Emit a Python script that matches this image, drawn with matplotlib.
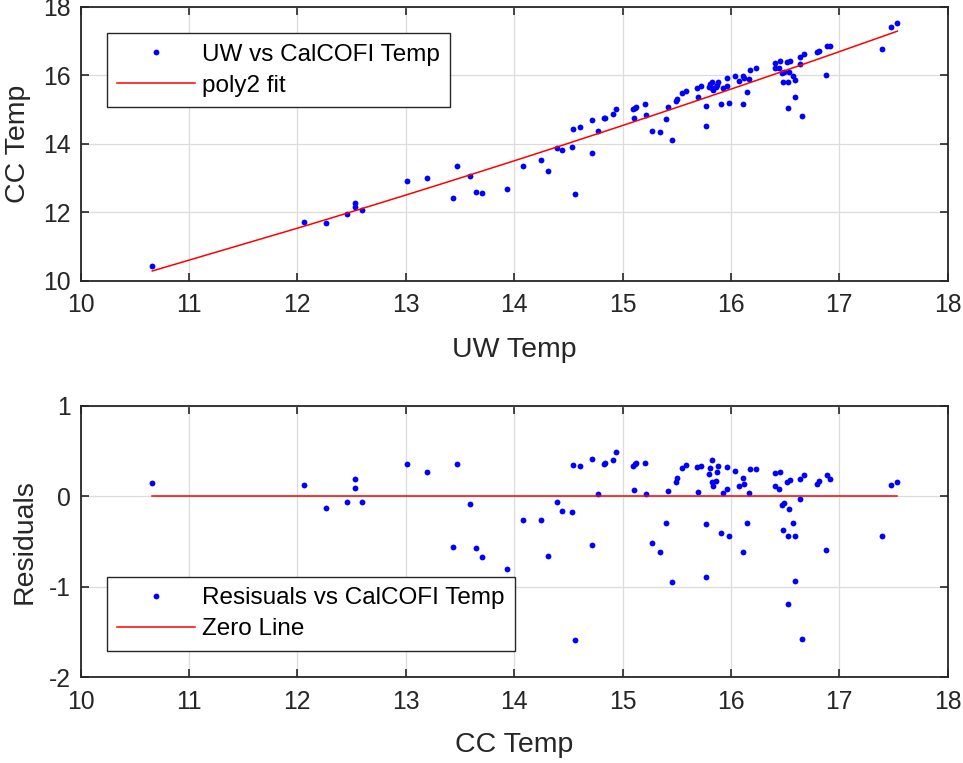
import numpy as np
import matplotlib
matplotlib.use("Agg")
import matplotlib.pyplot as plt

plt.rcParams['font.family'] = ['Liberation Sans', 'DejaVu Sans']
plt.rcParams['axes.unicode_minus'] = False

# UW temperature (x values shared by both panels)
uw_temp = [10.662, 12.059, 12.268, 12.461, 12.535, 12.535, 12.597, 13.009, 13.194, 13.439,
           13.476, 13.596, 13.649, 13.701, 13.932, 14.085, 14.245, 14.316, 14.393, 14.439,
           14.531, 14.543, 14.562, 14.611, 14.716, 14.719, 14.771, 14.829, 14.839, 14.909,
           14.943, 15.100, 15.106, 15.112, 15.125, 15.211, 15.220, 15.272, 15.349, 15.398,
           15.417, 15.454, 15.490, 15.500, 15.546, 15.586, 15.687, 15.697, 15.724, 15.767,
           15.770, 15.801, 15.807, 15.828, 15.825, 15.838, 15.862, 15.868, 15.884, 15.909,
           15.930, 15.964, 15.966, 15.983, 16.035, 16.075, 16.112, 16.118, 16.115, 16.149,
           16.170, 16.173, 16.232, 16.407, 16.410, 16.446, 16.453, 16.474, 16.478, 16.493,
           16.520, 16.524, 16.527, 16.533, 16.542, 16.573, 16.591, 16.594, 16.635, 16.640,
           16.656, 16.674, 16.794, 16.816, 16.874, 16.887, 16.917, 17.394, 17.474, 17.535]

# CalCOFI (CC) temperature
cc_temp = [10.44, 11.72, 11.685, 11.94, 12.26, 12.16, 12.06, 12.90, 12.99, 12.41,
           13.36, 13.05, 12.60, 12.56, 12.67, 13.36, 13.53, 13.20, 13.875, 13.82,
           13.90, 14.44, 12.54, 14.50, 13.74, 14.68, 14.36, 14.75, 14.76, 14.876,
           15.004, 15.013, 14.76, 15.05, 15.07, 15.17, 14.84, 14.36, 14.34, 14.71,
           15.08, 14.11, 15.26, 15.31, 15.47, 15.55, 15.635, 15.36, 15.676, 15.09,
           14.52, 15.664, 15.734, 15.81, 15.62, 15.58, 15.65, 15.71, 15.81, 15.15,
           15.62, 15.69, 15.93, 15.20, 15.97, 15.84, 15.97, 15.91, 15.17, 15.52,
           15.88, 16.14, 16.20, 16.347, 16.210, 16.210, 16.406, 16.073, 15.793, 16.102,
           16.377, 15.034, 15.793, 16.085, 16.423, 15.977, 15.860, 15.364, 16.531, 16.318,
           14.800, 16.628, 16.669, 16.715, 16.015, 16.853, 16.853, 16.756, 17.407, 17.515]

# Residuals
residuals = [0.148, 0.122, -0.128, -0.059, 0.185, 0.088, -0.059, 0.361, 0.270, -0.556,
             0.358, -0.081, -0.574, -0.674, -0.800, -0.268, -0.257, -0.655, -0.062, -0.165,
             -0.176, 0.343, -1.587, 0.332, -0.537, 0.409, 0.030, 0.361, 0.369, 0.398,
             0.494, 0.332, 0.074, 0.354, 0.369, 0.372, 0.030, -0.512, -0.611, -0.291,
             0.063, -0.950, 0.155, 0.196, 0.317, 0.343, 0.325, 0.048, 0.332, -0.302,
             -0.891, 0.250, 0.309, 0.401, 0.155, 0.118, 0.170, 0.265, 0.339, -0.401,
             0.041, 0.085, 0.325, -0.434, 0.280, 0.115, 0.196, 0.133, -0.611, -0.291,
             0.037, 0.306, 0.302, 0.259, 0.115, 0.082, 0.265, -0.099, -0.371, -0.077,
             0.159, -1.193, -0.434, -0.139, 0.177, -0.298, -0.434, -0.935, 0.185, -0.036,
             -1.572, 0.240, 0.140, 0.173, -0.592, 0.232, 0.188, -0.442, 0.126, 0.155]

x_ticks = [10, 11, 12, 13, 14, 15, 16, 17, 18]
top_yticks = [10, 12, 14, 16, 18]
bot_yticks = [-2, -1, 0, 1]

x = np.array(uw_temp)
y = np.array(cc_temp)
r = np.array(residuals)
coef = np.polyfit(x, y, 2)
xs = np.sort(x)
fit = np.polyval(coef, xs)

W, H = 963, 763
fig = plt.figure(figsize=(W / 100, H / 100), dpi=100)

axc = '#262626'
tick_fs = 17.8
label_fs = 20.5
leg_fs = 17.5
ms = 4.2


def style(ax):
    ax.set_xlim(10, 18)
    ax.set_xticks(x_ticks)
    ax.grid(True, color='#dcdcdc', linewidth=0.9)
    ax.set_axisbelow(True)
    for s in ax.spines.values():
        s.set_color(axc)
        s.set_linewidth(1.3)
    ax.tick_params(direction='in', length=6, width=1.2, colors=axc,
                   top=True, right=True, labelsize=tick_fs)
    ax.tick_params(axis='x', pad=9)
    ax.tick_params(axis='y', pad=7)


def legend(ax, loc, anchor):
    lg = ax.legend(loc=loc, bbox_to_anchor=anchor, fontsize=leg_fs, frameon=True,
                   fancybox=False, framealpha=1, edgecolor=axc, handlelength=3.2,
                   handletextpad=0.3, borderpad=0.42, labelspacing=0.38,
                   borderaxespad=0)
    lg.get_frame().set_linewidth(1.0)
    return lg


# Top panel
ax1 = fig.add_axes([80.5 / W, 1 - 280.7 / H, 867.2 / W, 274 / H])
ax1.plot(x, y, 'o', color='#0000ff', markersize=ms, markeredgewidth=0,
         label='UW vs CalCOFI Temp')
ax1.plot(xs, fit, '-', color='#ff0000', linewidth=1.1, label='poly2 fit')
style(ax1)
ax1.set_ylim(10, 18)
ax1.set_yticks(top_yticks)
ax1.set_xlabel('UW Temp', fontsize=label_fs, color=axc, va='center')
ax1.set_ylabel('CC Temp', fontsize=label_fs, color=axc, va='center')
ax1.xaxis.set_label_coords(0.5, -0.253)
ax1.yaxis.set_label_coords(-0.072, 0.5)
legend(ax1, 'upper left', (0.0302, 0.903))

# Bottom panel
ax2 = fig.add_axes([80.5 / W, 1 - 677.3 / H, 867.2 / W, 271.6 / H])
ax2.plot(x, r, 'o', color='#0000ff', markersize=ms, markeredgewidth=0,
         label='Resisuals vs CalCOFI Temp')
ax2.plot([xs[0], xs[-1]], [0, 0], '-', color='#ff0000', linewidth=1.1,
         label='Zero Line')
style(ax2)
ax2.set_ylim(-2, 1)
ax2.set_yticks(bot_yticks)
ax2.set_xlabel('CC Temp', fontsize=label_fs, color=axc, va='center')
ax2.set_ylabel('Residuals', fontsize=label_fs, color=axc, va='center')
ax2.xaxis.set_label_coords(0.5, -0.249)
ax2.yaxis.set_label_coords(-0.064, 0.5)
legend(ax2, 'lower left', (0.0302, 0.098))

fig.savefig('out.png', dpi=100)
